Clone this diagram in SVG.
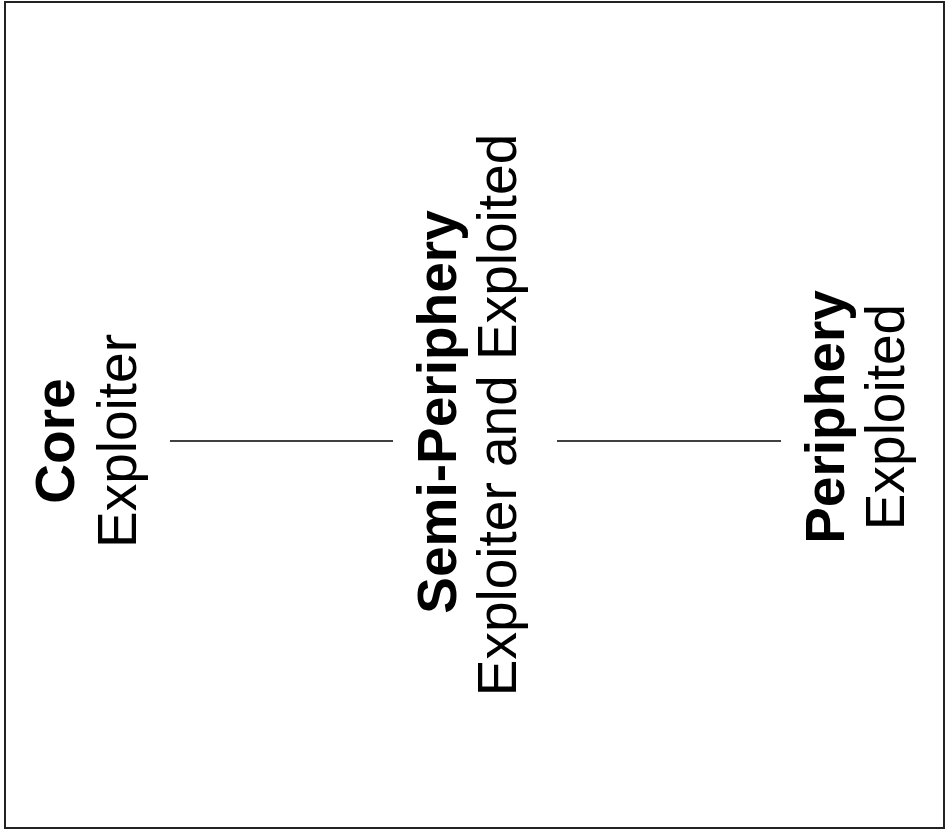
<svg xmlns="http://www.w3.org/2000/svg" width="948" height="832" viewBox="0 0 948 832">
<style>
.t{font-family:"Liberation Sans",Arial,sans-serif;font-size:55px;fill:#000;text-anchor:middle}
.b{font-weight:bold}
.c{stroke:#000;stroke-width:1.3;fill:none}
</style>
<rect x="0" y="0" width="948" height="832" fill="#fff"/>
<rect x="5" y="2" width="939" height="826" fill="#fff" stroke="#222" stroke-width="2"/>
<g id="connectors">
<line class="c" x1="170" y1="441" x2="393" y2="441"/>
<line class="c" x1="557" y1="441" x2="781" y2="441"/>
</g>
<g id="core">
<text class="t b" transform="translate(74,441) rotate(-90)">Core</text>
<text class="t" transform="translate(136,441) rotate(-90)">Exploiter</text>
</g>
<g id="semi-periphery">
<text class="t b" transform="translate(456,412) rotate(-90)">Semi-Periphery</text>
<text class="t" transform="translate(516,415) rotate(-90)">Exploiter and Exploited</text>
</g>
<g id="periphery">
<text class="t b" transform="translate(844,417) rotate(-90)">Periphery</text>
<text class="t" transform="translate(904,417) rotate(-90)">Exploited</text>
</g>
</svg>
